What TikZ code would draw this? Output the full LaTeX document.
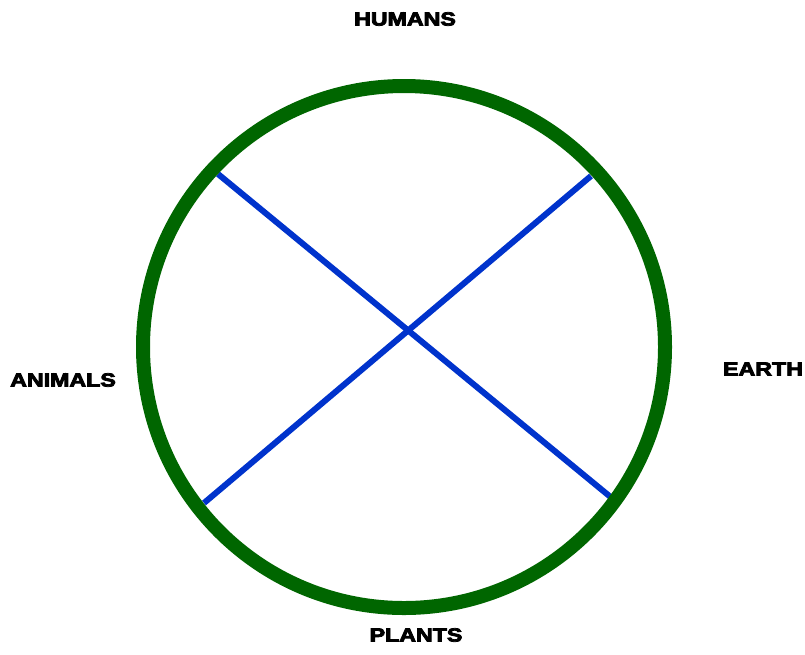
\documentclass[tikz,border=0pt]{standalone}
\usepackage{fontspec}
\newfontfamily\heavyfont[FakeBold=4]{Liberation Sans Bold}
\definecolor{ringgreen}{RGB}{0,102,0}
\definecolor{crossblue}{RGB}{0,51,204}
\tikzset{
  lbl/.style={font=\fontsize{19}{21}\heavyfont, xscale=1.22, inner sep=0pt},
  ring/.style={ringgreen, line width=14pt},
  cross/.style={crossblue, line width=6pt}
}
\begin{document}
\begin{tikzpicture}[x=1pt, y=-1pt]
    % Page frame
    \useasboundingbox (0,0) rectangle (805,654);

    % Points on the ring
    \coordinate (nw) at (218,174);
    \coordinate (se) at (613,499);
    \coordinate (ne) at (591,176);
    \coordinate (sw) at (204,503);

    % Cross lines
    \draw[cross] (nw) -- (se);
    \draw[cross] (ne) -- (sw);

    % Ring
    \draw[ring] (404,347) circle (261);

    % Labels
    \node[lbl] (humans) at (405,19) {HUMANS};
    \node[lbl] (animals) at (63,380) {ANIMALS};
    \node[lbl] (earth) at (763,369) {EARTH};
    \node[lbl] (plants) at (416,635) {PLANTS};
\end{tikzpicture}
\end{document}
